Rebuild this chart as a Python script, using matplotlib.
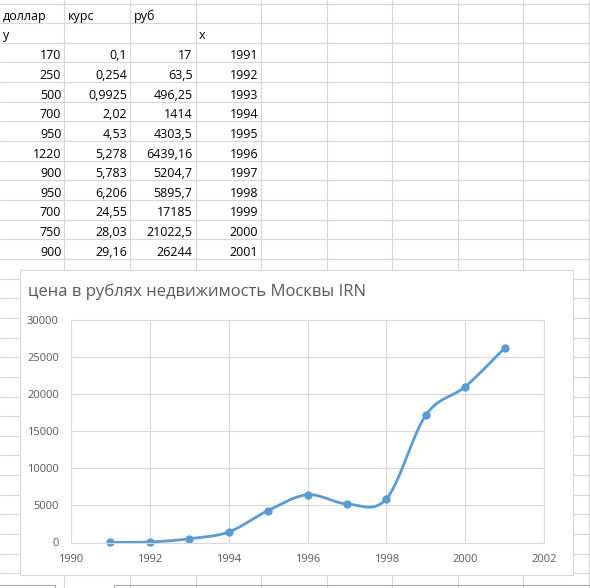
import numpy as np
import matplotlib.pyplot as plt
from matplotlib.patches import Rectangle

plt.rcParams['font.family'] = ['Open Sans', 'DejaVu Sans']

# table columns as shown in the sheet
dollar = ['170', '250', '500', '700', '950', '1220', '900', '950', '700', '750', '900']
kurs = ['0,1', '0,254', '0,9925', '2,02', '4,53', '5,278', '5,783', '6,206', '24,55', '28,03', '29,16']
rub_txt = ['17', '63,5', '496,25', '1414', '4303,5', '6439,16', '5204,7', '5895,7', '17185', '21022,5', '26244']

# chart series
years = [1991, 1992, 1993, 1994, 1995, 1996, 1997, 1998, 1999, 2000, 2001]
rub = [17, 63.5, 496.25, 1414, 4303.5, 6439.16, 5204.7, 5895.7, 17185, 21022.5, 26244]

title = 'цена в рублях недвижимость Москвы IRN'

W, H = 590, 588
fig = plt.figure(figsize=(W / 100, H / 100), dpi=100)

# sheet background in pixel coords
bg = fig.add_axes([0, 0, 1, 1])
bg.set_xlim(0, W)
bg.set_ylim(H, 0)
bg.axis('off')

grid_c = '#D6D6D6'
row0, row_h = 3.5, 19.65
col0, col_w = 64.3, 65.6
rows_y = [row0 + row_h * k for k in range(31)]
cols_x = [col0 + col_w * k for k in range(9)]
bg.hlines(rows_y, 0, W, color=grid_c, lw=0.8)
bg.vlines(cols_x, 0, H, color=grid_c, lw=0.8)

# header cells
fs = 9
bg.text(2.5, rows_y[1] - 3.5, 'доллар', fontsize=fs, va='baseline')
bg.text(cols_x[0] + 3.5, rows_y[1] - 3.5, 'курс', fontsize=fs, va='baseline')
bg.text(cols_x[1] + 3.5, rows_y[1] - 3.5, 'руб', fontsize=fs, va='baseline')
bg.text(2.5, rows_y[2] - 3.5, 'y', fontsize=fs, va='baseline')
bg.text(cols_x[2] + 3.5, rows_y[2] - 3.5, 'x', fontsize=fs, va='baseline')

for i in range(len(years)):
    yb = rows_y[3 + i] - 3.2
    cells = [dollar[i], kurs[i], rub_txt[i], str(years[i])]
    for j, s in enumerate(cells):
        bg.text(cols_x[j] - 3, yb, s, fontsize=fs, ha='right', va='baseline')

# bottom tabs
bg.plot([0, 55, 55], [584.5, 584.5, H], color='#ABABAB', lw=0.8)
bg.plot([W, 114, 114], [584.5, 584.5, H], color='#ABABAB', lw=0.8)

# chart area
bg.add_patch(Rectangle((20, 270), 553, 305, facecolor='white',
                       edgecolor='#D9D9D9', lw=0.8, zorder=3))
bg.text(28, 296, title, fontsize=12, color='#595959', va='baseline', zorder=4)

# plot area
left, right, top, bottom = 70.7, 544.3, 320, 542.5
ax = fig.add_axes([left / W, 1 - bottom / H, (right - left) / W, (bottom - top) / H])
ax.set_xlim(1990, 2002)
ax.set_ylim(0, 30000)
ax.set_xticks(range(1990, 2003, 2))
ax.set_yticks(range(0, 30001, 5000))
ax.grid(True, color='#D9D9D9', lw=0.8)
ax.set_axisbelow(True)
for sp in ax.spines.values():
    sp.set_color('#D9D9D9')
    sp.set_linewidth(0.8)
ax.tick_params(length=0, labelsize=8, labelcolor='#595959')
ax.tick_params(axis='y', pad=8.5)
ax.tick_params(axis='x', pad=8.5)
ax.patch.set_alpha(0)

# smoothed line like Excel (Catmull-Rom style bezier)
px = np.array(years, dtype=float)
py = np.array(rub, dtype=float)
P = np.column_stack([px, py])
ext = np.vstack([P[0], P, P[-1]])
t = np.linspace(0, 1, 40)[:, None]
curve = []
for i in range(len(P) - 1):
    p0, p1, p2, p3 = ext[i], ext[i + 1], ext[i + 2], ext[i + 3]
    b1 = p1 + (p2 - p0) / 6
    b2 = p2 - (p3 - p1) / 6
    seg = ((1 - t) ** 3) * p1 + 3 * ((1 - t) ** 2) * t * b1 + 3 * (1 - t) * t ** 2 * b2 + t ** 3 * p2
    curve.append(seg)
curve = np.vstack(curve)

blue = '#5B9BD5'
ax.plot(curve[:, 0], curve[:, 1], color=blue, lw=2, solid_capstyle='round', clip_on=False)
ax.plot(px, py, 'o', color=blue, ms=5, clip_on=False)

fig.savefig('out.png', dpi=100)
